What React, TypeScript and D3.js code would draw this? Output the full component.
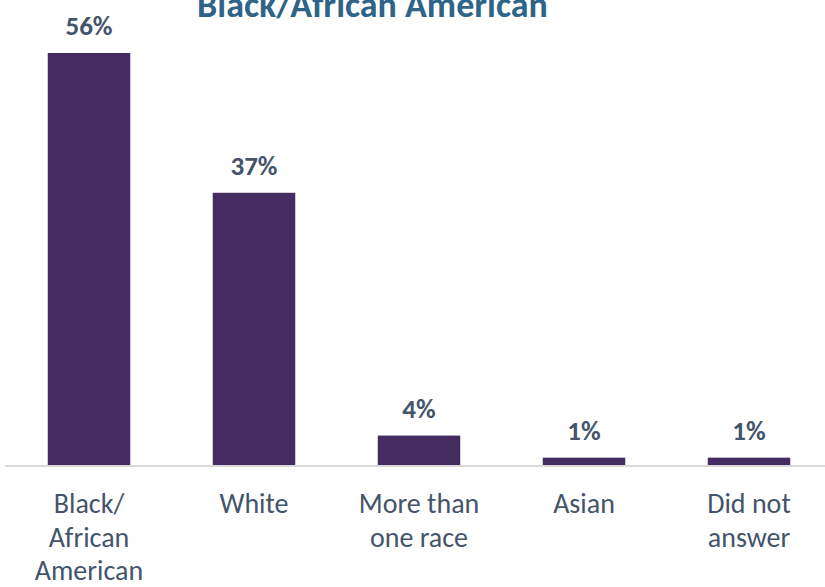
import React from "react";
import * as d3 from "d3";

const categories = ["Black/\nAfrican\nAmerican", "White", "More than\none race", "Asian", "Did not\nanswer"];
const values = [56, 37, 4, 1, 1];
const valueLabels = ["56%", "37%", "4%", "1%", "1%"];
const title = "Black/African American";

const W = 825;
const H = 587;
const baseY = 465;

export default function App() {
  const x = d3.scaleBand<string>().domain(categories).range([6.5, 831.5]).paddingInner(0.5).paddingOuter(0.25);
  const y = d3.scaleLinear().domain([0, 56]).range([baseY, 53]);
  const font = "Carlito, Calibri, 'Open Sans', sans-serif";
  return (
    <svg width={W} height={H} style={{ position: "absolute", left: 0, top: 0, background: "#fff" }} fontFamily={font}>
      <text x={372.5} y={17} textAnchor="middle" fontSize={36} fontWeight="bold" fill="#2F6489">{title}</text>
      {categories.map((c, i) => {
        const bx = x(c)!;
        const bw = x.bandwidth();
        const cx = bx + bw / 2;
        const top = y(values[i]);
        return (
          <g key={c}>
            <rect x={bx} y={top} width={bw} height={baseY - top} fill="#442C61" />
            <text x={cx} y={top - 18} textAnchor="middle" fontSize={27} fontWeight="bold" fill="#44546A">{valueLabels[i]}</text>
            {c.split("\n").map((line, j) => (
              <text key={j} x={cx} y={513 + j * 33.5} textAnchor="middle" fontSize={28} fill="#44546A">{line}</text>
            ))}
          </g>
        );
      })}
      <line x1={5} x2={825} y1={466} y2={466} stroke="#D9D9D9" strokeWidth={2} />
    </svg>
  );
}
